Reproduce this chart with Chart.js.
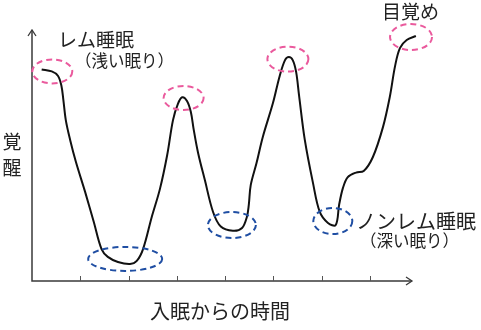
<!DOCTYPE html>
<html>
<head>
<meta charset="utf-8">
<script src="https://cdn.jsdelivr.net/npm/chart.js@4/dist/chart.umd.min.js"></script>
<style>
  html, body { margin: 0; padding: 0; background: #fff; }
  #wrap { width: 481px; height: 330px; position: relative; }
</style>
</head>
<body>
<div id="wrap"><canvas id="c" width="481" height="330"></canvas></div>
<script>
// Time since falling asleep (one tick = one unit)
const hours = [
  0.20, 0.41, 0.54, 0.61, 0.65, 0.70, 0.79, 0.91, 1.10, 1.28,
  1.44, 1.57, 1.78, 2.03, 2.17, 2.30, 2.48, 2.65, 2.80, 2.92,
  3.02, 3.11, 3.21, 3.29, 3.35, 3.44, 3.58, 3.75, 3.91, 4.16,
  4.35, 4.45, 4.49, 4.53, 4.65, 4.78, 4.99, 5.13, 5.24, 5.32,
  5.40, 5.47, 5.53, 5.65, 5.82, 5.96, 6.13, 6.29, 6.36, 6.44,
  6.54, 6.71, 6.87, 7.06, 7.27, 7.41, 7.52, 7.62, 7.76, 7.95
];
// Wakefulness level (0 = deepest sleep, 100 = awake)
const wakefulness = [
  84.3, 83.5, 81.7, 77.7, 72.1, 64.1, 56.2, 47.4, 35.5, 23.5,
  12.7, 9.6, 7.6, 6.8, 8.0, 12.7, 25.5, 36.7, 50.2, 64.1,
  70.5, 73.2, 71.7, 67.3, 60.2, 51.0, 40.2, 27.5, 21.7, 20.0,
  21.1, 25.5, 30.3, 38.2, 47.0, 57.4, 70.9, 81.7, 88.0, 89.2,
  88.0, 83.3, 74.1, 56.2, 39.0, 27.5, 23.1, 22.3, 30.3, 37.1,
  41.4, 43.2, 43.8, 49.4, 61.4, 73.3, 85.7, 92.8, 96.0, 97.6
];
// Tick positions on the time axis
const tickHours = [1, 2, 3, 4, 5, 6, 7];
// Highlighted phases: REM peaks (light sleep) and non-REM troughs (deep sleep)
const remHours = [0.42, 3.14, 5.30, 7.85];
const remLevels = [83.5, 72.9, 88.4, 97.2];
const nremHours = [1.93, 4.14, 6.23];
const nremLevels = [8.8, 22.3, 23.9];

const FONT = '"Noto Sans CJK JP", "Noto Sans", sans-serif';

const decor = {
  id: 'decor',
  afterDatasetsDraw(chart) {
    const ctx = chart.ctx;
    const xs = chart.scales.x, ys = chart.scales.y;
    const a = chart.chartArea;
    ctx.save();

    // axes with open arrowheads
    ctx.strokeStyle = '#3a3a3a';
    ctx.lineWidth = 1.5;
    ctx.beginPath();
    ctx.moveTo(a.left, a.top);
    ctx.lineTo(a.left, a.bottom);
    ctx.lineTo(a.right, a.bottom);
    ctx.stroke();
    ctx.lineWidth = 1.3;
    ctx.beginPath();
    ctx.moveTo(a.left - 4, a.top + 6);
    ctx.lineTo(a.left, a.top);
    ctx.lineTo(a.left + 4, a.top + 6);
    ctx.moveTo(a.right - 6, a.bottom - 4);
    ctx.lineTo(a.right, a.bottom);
    ctx.lineTo(a.right - 6, a.bottom + 4);
    ctx.stroke();

    // tick marks pointing into the plot
    ctx.strokeStyle = '#555';
    ctx.lineWidth = 1;
    ctx.beginPath();
    tickHours.forEach(t => {
      const px = Math.round(xs.getPixelForValue(t)) + 0.5;
      ctx.moveTo(px, a.bottom);
      ctx.lineTo(px, a.bottom - 5);
    });
    ctx.stroke();

    // dashed ellipses around the phase markers
    const ring = (hx, lv, rx, ry, color) => {
      ctx.strokeStyle = color;
      ctx.lineWidth = 2;
      ctx.setLineDash([6, 4]);
      ctx.beginPath();
      ctx.ellipse(xs.getPixelForValue(hx), ys.getPixelForValue(lv), rx, ry, 0, 0, Math.PI * 2);
      ctx.stroke();
    };
    const remSize = [[20, 12], [20, 12], [20.5, 12.5], [21, 13]];
    const nremSize = [[37, 12], [24, 13], [19.5, 13]];
    remHours.forEach((h, i) => ring(h, remLevels[i], remSize[i][0], remSize[i][1], '#ea5a9d'));
    nremHours.forEach((h, i) => ring(h, nremLevels[i], nremSize[i][0], nremSize[i][1], '#1f4ea3'));
    ctx.setLineDash([]);

    // labels
    ctx.fillStyle = '#222';
    ctx.textBaseline = 'middle';
    ctx.textAlign = 'left';
    ctx.font = '19px ' + FONT;
    ctx.fillText('レム睡眠', 58, 40);
    ctx.font = '16.5px ' + FONT;
    ctx.fillText('（浅い眠り）', 75, 61);
    ctx.font = '19px ' + FONT;
    ctx.fillText('目覚め', 382, 12);
    ctx.font = '20px ' + FONT;
    ctx.fillText('ノンレム睡眠', 356, 221);
    ctx.font = '16.5px ' + FONT;
    ctx.fillText('（深い眠り）', 360, 241);

    ctx.font = '19px ' + FONT;
    ctx.textAlign = 'center';
    ctx.fillText('覚', 12, 142);
    ctx.fillText('醒', 12, 168);
    ctx.font = '20px ' + FONT;
    ctx.fillText('入眠からの時間', 220, 311);
    ctx.restore();
  }
};

new Chart(document.getElementById('c'), {
  type: 'line',
  data: {
    datasets: [{
      data: hours.map((h, i) => ({ x: h, y: wakefulness[i] })),
      borderColor: '#111',
      borderWidth: 2,
      pointRadius: 0,
      tension: 0.35,
      fill: false,
      clip: false
    }]
  },
  options: {
    responsive: false,
    animation: false,
    events: [],
    layout: { padding: { left: 32, right: 69, top: 30, bottom: 49 } },
    plugins: { legend: { display: false }, tooltip: { enabled: false } },
    scales: {
      x: { type: 'linear', min: 0, max: 7.87, display: false },
      y: { type: 'linear', min: 0, max: 100, display: false }
    }
  },
  plugins: [decor]
});
</script>
</body>
</html>
